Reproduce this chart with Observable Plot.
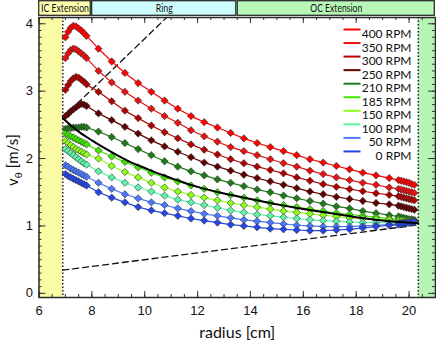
<!DOCTYPE html>
<html><head><meta charset="utf-8">
<script src="https://cdn.jsdelivr.net/npm/d3@7"></script>
<script src="https://cdn.jsdelivr.net/npm/@observablehq/plot@0.6"></script>
<style>
body{margin:0;background:#fff;}
#chart{width:436px;height:346px;}
svg{display:block;}
</style></head><body><div id="chart"></div>
<script>
// ---- data ----
const rpmLabels = ["400 RPM","350 RPM","300 RPM","250 RPM","210 RPM","185 RPM","150 RPM","100 RPM","50 RPM","0 RPM"];
const rpmColors = ["#ff0000","#e81010","#b00000","#600000","#1f7a1a","#3ee600","#8cff1a","#5cf5a8","#4a78ff","#2546e6"];
const radius = [7.0,7.1,7.2,7.3,7.4,7.5,7.6,7.7,7.8,
  8.25,8.75,9.25,9.75,10.25,10.75,11.25,11.75,12.25,12.75,13.25,13.75,14.25,14.75,15.25,15.75,16.25,16.75,17.25,17.75,18.25,18.75,19.25,
  19.6,19.7,19.8,19.9,20.0,20.1,20.2];
const v400 = [3.80,3.88,3.94,3.97,3.96,3.93,3.90,3.86,3.82,
  3.63,3.44,3.27,3.12,2.99,2.86,2.74,2.63,2.54,2.46,2.38,2.30,2.23,2.17,2.11,2.05,1.99,1.94,1.89,1.84,1.79,1.75,1.71,
  1.68,1.67,1.66,1.65,1.64,1.62,1.61];
const v350 = [3.49,3.56,3.61,3.63,3.62,3.59,3.56,3.53,3.49,
  3.30,3.13,2.99,2.86,2.74,2.63,2.53,2.42,2.33,2.25,2.17,2.11,2.05,1.99,1.93,1.88,1.82,1.77,1.72,1.68,1.64,1.61,1.57,
  1.55,1.54,1.53,1.52,1.51,1.50,1.49];
const v300 = [3.02,3.09,3.15,3.19,3.21,3.20,3.17,3.14,3.10,
  2.99,2.85,2.71,2.60,2.49,2.39,2.30,2.21,2.13,2.06,1.99,1.93,1.88,1.83,1.78,1.72,1.67,1.62,1.58,1.545,1.515,1.485,1.46,
  1.44,1.43,1.42,1.41,1.40,1.39,1.38];
const v250 = [2.63,2.66,2.70,2.73,2.76,2.79,2.81,2.80,2.78,
  2.67,2.57,2.47,2.37,2.27,2.18,2.10,2.02,1.94,1.88,1.82,1.76,1.71,1.66,1.61,1.56,1.51,1.47,1.43,1.40,1.37,1.34,1.32,
  1.30,1.29,1.28,1.27,1.26,1.25,1.24];
const v210 = [2.44,2.45,2.45,2.46,2.46,2.46,2.47,2.47,2.46,
  2.40,2.32,2.23,2.14,2.05,1.96,1.88,1.81,1.75,1.69,1.64,1.59,1.54,1.50,1.45,1.41,1.37,1.33,1.29,1.26,1.22,1.19,1.16,
  1.14,1.13,1.12,1.11,1.10,1.10,1.09];
const v185 = [2.37,2.35,2.33,2.31,2.29,2.27,2.25,2.23,2.21,
  2.12,2.03,1.95,1.87,1.79,1.72,1.66,1.60,1.55,1.50,1.46,1.42,1.38,1.34,1.31,1.28,1.25,1.22,1.19,1.17,1.15,1.13,1.11,
  1.10,1.09,1.09,1.08,1.08,1.07,1.07];
const v150 = [2.26,2.23,2.20,2.17,2.14,2.12,2.10,2.08,2.06,
  2.00,1.89,1.80,1.72,1.64,1.57,1.51,1.46,1.42,1.38,1.34,1.31,1.28,1.25,1.22,1.20,1.18,1.16,1.14,1.12,1.11,1.10,1.09,
  1.08,1.08,1.07,1.07,1.07,1.06,1.06];
const v100 = [2.14,2.11,2.08,2.05,2.02,1.99,1.96,1.93,1.91,
  1.81,1.72,1.64,1.57,1.51,1.45,1.39,1.35,1.31,1.27,1.23,1.20,1.17,1.15,1.13,1.11,1.09,1.08,1.07,1.06,1.05,1.05,1.05,
  1.05,1.05,1.05,1.06,1.06,1.06,1.06];
const v50 = [1.90,1.88,1.85,1.83,1.81,1.79,1.77,1.75,1.73,
  1.64,1.55,1.47,1.41,1.35,1.31,1.26,1.22,1.18,1.15,1.12,1.09,1.07,1.05,1.03,1.01,1.00,0.99,0.99,0.99,1.00,1.01,1.02,
  1.03,1.04,1.04,1.05,1.05,1.06,1.06];
const v0 = [1.77,1.74,1.72,1.70,1.68,1.66,1.64,1.62,1.60,
  1.50,1.42,1.35,1.28,1.23,1.19,1.15,1.11,1.08,1.05,1.02,1.00,0.98,0.96,0.95,0.94,0.93,0.93,0.94,0.95,0.97,0.99,1.01,
  1.02,1.03,1.04,1.04,1.05,1.05,1.06];
const seriesValues = [v400,v350,v300,v250,v210,v185,v150,v100,v50,v0];

// Couette reference profile (black) and solid-body lines (dashed)
const couetteR = [6.9,7.5,8.0,8.5,9.0,9.5,10.0,10.5,11.0,11.5,12.0,13.0,14.0,15.0,16.0,17.0,18.0,19.0,20.35];
const couetteV = [2.60,2.40,2.27,2.15,2.04,1.94,1.86,1.78,1.71,1.64,1.58,1.48,1.40,1.32,1.25,1.19,1.13,1.08,1.04];
const innerSolidR = [6.9,10.83];
const innerSolidV = [2.61,4.093];
const outerSolidR = [6.9,20.35];
const outerSolidV = [0.345,1.015];

// regions
const bandLabels = ["IC Extension","Ring","OC Extension"];
const bandLabelWidths = [48,17,52];
const bandStart = [6,8,13.5];
const bandEnd = [8,13.5,21];
const bandFills = ["#ffffb0","#ccfcfc","#b8f7b8"];
const shadeStart = [6,20.35];
const shadeEnd = [6.9,21];
const shadeFills = ["#fbfba6","#b6f4b6"];
const boundaryR = [6.9,20.35];

const xTickValues = [6,8,10,12,14,16,18,20];
const yTickValues = [0,1,2,3,4];

// ---- layout ----
const W = 436, ML = 38.5, MR = 1, MT = 1, MB = 49, H = 330;
const FW = W - ML - MR, FH = H - MT - MB;
const FONT = "Lato, 'Liberation Sans', sans-serif";
const NUMFONT = "'Liberation Sans', Arial, sans-serif";
const xDomain = [6,21], yDomain = [-0.062,4.093];

const rows = rpmLabels.flatMap((label,i) => radius.map((r,j) => ({label, color: rpmColors[i], r, v: seriesValues[i][j]})));
const couette = couetteR.map((r,i) => ({r, v: couetteV[i]}));
const innerSolid = innerSolidR.map((r,i) => ({r, v: innerSolidV[i]}));
const outerSolid = outerSolidR.map((r,i) => ({r, v: outerSolidV[i]}));
const bands = bandLabels.map((label,i) => ({label, start: bandStart[i], end: bandEnd[i], fill: bandFills[i]}));
const shades = shadeStart.map((s,i) => ({start: s, end: shadeEnd[i], fill: shadeFills[i]}));

const xMinor = d3.range(6, 21.01, 0.5);
const yMinor = d3.range(0, 4.05, 0.1);

const hline = {draw(ctx, size){ const h = Math.sqrt(size/Math.PI); ctx.moveTo(-h,0); ctx.lineTo(h,0); }};

const band = Plot.plot({
  width: W, height: 16, marginLeft: ML - 0.5, marginRight: MR, marginTop: 0, marginBottom: 0,
  x: {domain: xDomain, axis: null},
  color: {type: "identity"},
  style: {fontFamily: FONT, background: "transparent"},
  marks: [
    Plot.rect(bands, {x1: "start", x2: "end", fill: "fill", stroke: "#2a2a2a", strokeWidth: 1.3, insetLeft: 0.7, insetRight: 0.7, insetTop: 0.7, insetBottom: 0.7}),
    Plot.text(bands, {x: d => (d.start + d.end)/2, text: "label", frameAnchor: "middle", fontSize: 11, fill: "#111"})
  ]
});
// condense band labels to the reference widths
d3.select(band).selectAll("text").each(function(){
  const i = bandLabels.indexOf(this.textContent);
  if (i >= 0) d3.select(this).attr("textLength", bandLabelWidths[i]).attr("lengthAdjust", "spacingAndGlyphs");
});

const legendMarks = rpmLabels.flatMap((label,i) => [
  Plot.dot([label], {frameAnchor: "top-right", dx: -83.5, dy: 12 + i*13.55, symbol: hline, r: 8.5, stroke: rpmColors[i], strokeWidth: 2, fill: "none"}),
  Plot.text([label], {text: d => d, frameAnchor: "top-right", dx: -24, dy: 12 + i*13.55, textAnchor: "end", fontSize: 12, fill: "#111"})
]);

const main = Plot.plot({
  width: W, height: H, marginLeft: ML, marginRight: MR, marginTop: MT, marginBottom: MB,
  x: {domain: xDomain, label: null},
  y: {domain: yDomain, label: null},
  color: {type: "identity"},
  style: {fontFamily: FONT, background: "white", color: "#111"},
  marks: [
    Plot.rect(shades, {x1: "start", x2: "end", fill: "fill"}),
    Plot.ruleX(boundaryR, {stroke: "#222", strokeWidth: 1.5, strokeDasharray: "1.5,2"}),
    Plot.tickX(xMinor, {x: d => d, insetTop: FH - 3, stroke: "#333"}),
    Plot.tickX(xMinor, {x: d => d, insetBottom: FH - 3, stroke: "#333"}),
    Plot.tickX(xTickValues, {x: d => d, insetTop: FH - 6, stroke: "#333"}),
    Plot.tickX(xTickValues, {x: d => d, insetBottom: FH - 6, stroke: "#333"}),
    Plot.tickY(yMinor, {y: d => d, insetRight: FW - 3, stroke: "#333"}),
    Plot.tickY(yMinor, {y: d => d, insetLeft: FW - 3, stroke: "#333"}),
    Plot.tickY(yTickValues, {y: d => d, insetRight: FW - 7, stroke: "#333"}),
    Plot.tickY(yTickValues, {y: d => d, insetLeft: FW - 7, stroke: "#333"}),
    Plot.line(innerSolid, {x: "r", y: "v", stroke: "#111", strokeWidth: 1.3, strokeDasharray: "6,4", clip: true}),
    Plot.line(outerSolid, {x: "r", y: "v", stroke: "#111", strokeWidth: 1.3, strokeDasharray: "6,4"}),
    Plot.line(rows, {x: "r", y: "v", z: "label", stroke: "color", strokeWidth: 1.2}),
    Plot.dot(rows, {x: "r", y: "v", fill: "color", stroke: "#333", strokeWidth: 0.6, symbol: "diamond2", r: 3.3}),
    Plot.line(couette, {x: "r", y: "v", stroke: "#000", strokeWidth: 2, curve: "monotone-x"}),
    ...legendMarks,
    Plot.frame({stroke: "#2a2a2a", strokeWidth: 1.5}),
    Plot.axisX(xTickValues, {anchor: "bottom", tickSize: 0, tickPadding: 8, fontSize: 13, fontFamily: NUMFONT, tickFormat: d => String(d), label: null}),
    Plot.axisY(yTickValues, {anchor: "left", tickSize: 0, tickPadding: 6, fontSize: 13, fontFamily: NUMFONT, tickFormat: d => String(d), label: null}),
    Plot.text(["radius [cm]"], {text: d => d, frameAnchor: "bottom", dy: 40, fontSize: 16, fill: "#111"})
  ]
});

// y label with subscript theta
const ylab = d3.select(main).append("text")
  .attr("transform", "translate(18,144) rotate(-90)")
  .attr("text-anchor", "middle")
  .attr("font-family", FONT)
  .attr("font-size", 15)
  .attr("fill", "#111");
ylab.append("tspan").text("v");
ylab.append("tspan").attr("font-size", 10).attr("dy", 3.5).text("θ");
ylab.append("tspan").attr("dy", -3.5).text(" [m/s]");

const chart = document.getElementById("chart");
chart.append(band, main);
</script></body></html>
